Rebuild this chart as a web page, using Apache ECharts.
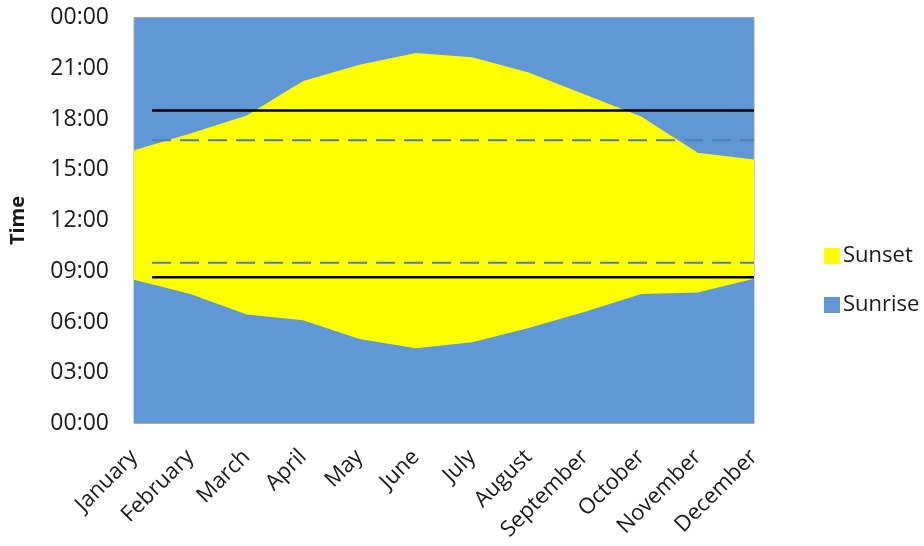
<!DOCTYPE html>
<html>
<head>
<meta charset="utf-8">
<script src="https://cdn.jsdelivr.net/npm/echarts@6/dist/echarts.min.js"></script>
<style>
  html, body { margin: 0; padding: 0; background: #ffffff; }
  #chart { width: 924px; height: 546px; }
</style>
</head>
<body>
<div id="chart"></div>
<script>
// Months along the horizontal axis
const months = ['January', 'February', 'March', 'April', 'May', 'June',
  'July', 'August', 'September', 'October', 'November', 'December'];

// Times of day in decimal hours
const sunset = [16.15, 17.15, 18.2, 20.25, 21.2, 21.9, 21.65, 20.75, 19.45, 18.15, 16.0, 15.6];
const sunrise = [8.5, 7.65, 6.45, 6.1, 5.0, 4.45, 4.8, 5.65, 6.6, 7.65, 7.75, 8.55];

// Reference hours drawn as horizontal rules
const solidRules = [18.5, 8.65];
const dashedRules = [16.75, 9.5];
// Month position (0 = January) where the rules begin and end
const ruleSpan = [0.32, 11];

// Labels for the time axis, one per 3-hour step
const hourLabels = ['00:00', '03:00', '06:00', '09:00', '12:00', '15:00', '18:00', '21:00', '00:00'];

const FONT = '"Open Sans", sans-serif';
const TEXT = '#1a1a1a';
const BLUE = '#5F97D7';
const YELLOW = '#FFFF00';

function ruleSeries(hours, style) {
  return hours.map(h => ({
    type: 'line',
    xAxisIndex: 1,
    silent: true,
    symbol: 'none',
    z: 5,
    lineStyle: style,
    data: [[ruleSpan[0], h], [ruleSpan[1], h]]
  }));
}

const chart = echarts.init(document.getElementById('chart'), null, { renderer: 'canvas' });

chart.setOption({
  animation: false,
  backgroundColor: '#ffffff',
  grid: {
    left: 130, right: 170, top: 17.5, bottom: 122.5,
    show: true,
    backgroundColor: BLUE,
    borderColor: '#A6A6A6',
    borderWidth: 1
  },
  legend: {
    orient: 'vertical',
    left: 819,
    top: 240,
    itemWidth: 16,
    itemHeight: 16,
    itemGap: 27,
    icon: 'rect',
    textStyle: { fontFamily: FONT, fontSize: 22, color: TEXT, padding: [0, 0, 0, -2] },
    data: ['Sunset', 'Sunrise']
  },
  xAxis: [{
    type: 'category',
    data: months,
    boundaryGap: false,
    axisLine: { show: false },
    axisTick: { show: false },
    splitLine: { show: false },
    axisLabel: {
      interval: 0,
      rotate: 45,
      margin: 30,
      fontFamily: FONT,
      fontSize: 22,
      color: TEXT
    }
  }, {
    type: 'value',
    min: 0,
    max: 11,
    show: false
  }],
  yAxis: {
    type: 'value',
    min: 0,
    max: 24,
    interval: 3,
    name: 'Time',
    nameLocation: 'middle',
    nameRotate: 90,
    nameGap: 106,
    nameTextStyle: { fontFamily: FONT, fontSize: 20, fontWeight: 'bold', color: TEXT },
    axisLine: { show: false },
    axisTick: { show: false },
    splitLine: { show: false },
    axisLabel: {
      margin: 25,
      fontFamily: FONT,
      fontSize: 23,
      color: TEXT,
      formatter: v => hourLabels[Math.round(v / 3)]
    }
  },
  series: [
    {
      name: 'Sunset',
      type: 'line',
      data: sunset,
      symbol: 'none',
      lineStyle: { width: 0 },
      itemStyle: { color: YELLOW },
      areaStyle: { color: YELLOW, opacity: 1 },
      z: 2
    },
    {
      name: 'Sunrise',
      type: 'line',
      data: sunrise,
      symbol: 'none',
      lineStyle: { width: 0 },
      itemStyle: { color: BLUE },
      areaStyle: { color: BLUE, opacity: 1 },
      z: 3
    },
    ...ruleSeries(solidRules, { color: '#000000', width: 2.5, type: 'solid' }),
    ...ruleSeries(dashedRules, { color: '#4F7FB8', width: 2, type: [19, 9] })
  ]
});
</script>
</body>
</html>
